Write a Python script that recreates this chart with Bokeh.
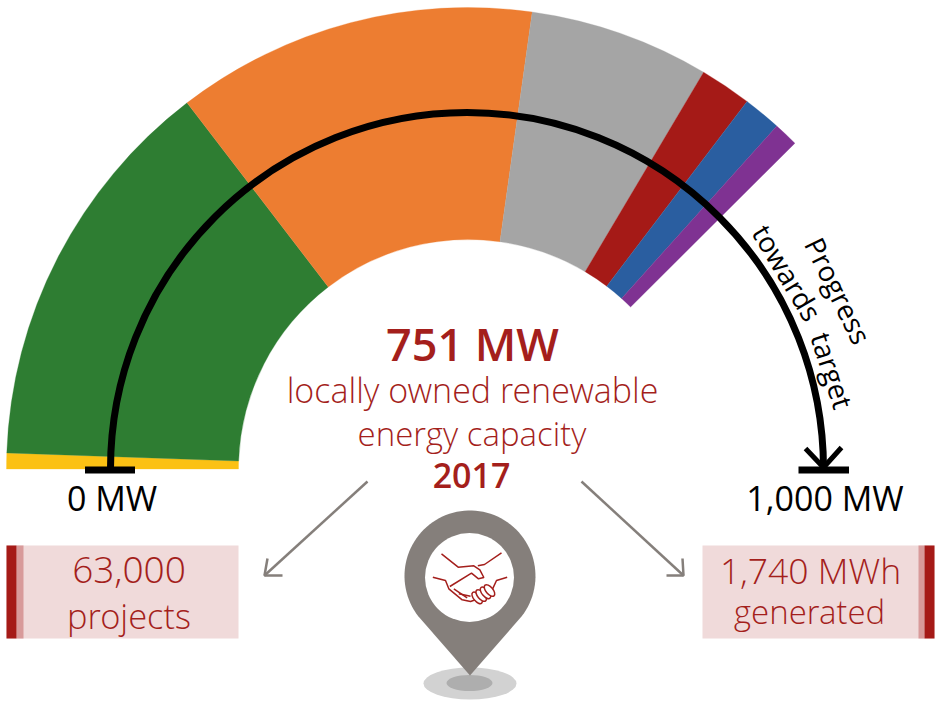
import numpy as np
from bokeh.plotting import figure
from bokeh.models import ColumnDataSource
from bokeh.core.properties import value
from bokeh.embed import file_html
from bokeh.resources import INLINE

# ---- data ----
segment_names = ["Yellow", "Green", "Orange", "Grey", "Red", "Blue", "Purple"]
segment_degrees = [2.0, 50.5, 45.5, 22.7, 6.5, 4.8, 3.1]
segment_colors = ["#fbc114", "#2e7d32", "#ed7d31", "#a5a5a5", "#a51a17", "#2a5ea0", "#7f3292"]
progress_min_label = "0 MW"
progress_max_label = "1,000 MW"
headline = "751 MW"
headline_lines = ["locally owned renewable", "energy capacity"]
headline_year = "2017"
left_box = ["63,000", "projects"]
right_box = ["1,740 MWh", "generated"]

RED = "#a41f1c"
GREY = "#857f7b"
FONT = "Open Sans"
LIGHT = "Open Sans Light"
SEMI = "Open Sans SemiBold"
H = 701

def Y(py):
    return H - np.asarray(py, dtype=float)

p = figure(width=945, height=709, x_range=(-8, 937), y_range=(0, 709),
           output_backend="svg", toolbar_location=None, min_border=0,
           x_axis_location=None, y_axis_location=None, outline_line_color=None,
           background_fill_color="white")
p.grid.visible = False
p.margin = (-8, 0, 0, -8)

CX, CY = 466.5, Y(468.5)

# gauge
ends = 180 - np.cumsum(segment_degrees)
starts = np.concatenate([[180], ends[:-1]])
src = ColumnDataSource(dict(start=ends, end=starts, color=segment_colors, name=segment_names))
p.annular_wedge(x=CX + 1, y=CY, inner_radius=229.5, outer_radius=461.5, start_angle="start",
                end_angle="end", start_angle_units="deg", end_angle_units="deg",
                fill_color="color", line_color="color", line_width=0.3, source=src)

# progress arc, ticks and arrow
p.arc(x=CX, y=CY, radius=356.5, start_angle=0, end_angle=180, start_angle_units="deg",
      end_angle_units="deg", line_color="black", line_width=7)
p.quad(left=[84.5, 798], right=[134.5, 848.5], top=Y([466, 466]), bottom=Y([473, 473]),
       fill_color="black", line_color=None)
p.line([805, 823, 841], Y([448, 467, 447]), line_color="black", line_width=5)

# progress label, word by word along the arc
p.text(x=[838, 787, 832], y=Y([290, 272, 370]), text=["Progress", "towards", "target"],
       angle=[-64, -59, -72], angle_units="deg", text_font=value(FONT), text_font_size="28px",
       text_color="black", text_align="center", text_baseline="middle")

# end labels
p.text(x=[111.5, 824.5], y=Y([497, 497]), text=[progress_min_label, progress_max_label],
       text_font=value(FONT), text_font_size="34px", text_color="black",
       text_align="center", text_baseline="middle")

# headline
p.text(x=[472], y=Y([343]), text=[headline], text_font=value(SEMI), text_font_size="45px",
       text_color=RED, text_align="center", text_baseline="middle")
p.text(x=[472], y=Y([389.5]), text=[headline_lines[0]], text_font=value(LIGHT),
       text_font_size="34px", text_color=RED, text_align="center", text_baseline="middle")
p.text(x=[471.5], y=Y([433]), text=[headline_lines[1]], text_font=value(LIGHT),
       text_font_size="33px", text_color=RED, text_align="center", text_baseline="middle")
p.text(x=[471], y=Y([475]), text=[headline_year], text_font=value(SEMI), text_font_size="34px",
       text_color=RED, text_align="center", text_baseline="middle")

# boxes
p.quad(left=[6, 702], right=[238, 934], top=Y([545, 545]), bottom=Y([638, 638]),
       fill_color="#f0dada", line_color=None)
p.quad(left=[16, 918], right=[23, 924], top=Y([545, 545]), bottom=Y([638, 638]),
       fill_color="#d89a9a", line_color=None)
p.quad(left=[6, 924], right=[16, 934], top=Y([545, 545]), bottom=Y([638, 638]),
       fill_color="#a51a17", line_color=None)
p.text(x=[128.5], y=Y([569.5]), text=[left_box[0]], text_font=value(LIGHT), text_font_size="37px",
       text_color=RED, text_align="center", text_baseline="middle")
p.text(x=[128.5], y=Y([615]), text=[left_box[1]], text_font=value(LIGHT), text_font_size="34.5px",
       text_color=RED, text_align="center", text_baseline="middle")
p.text(x=[810], y=Y([569]), text=[right_box[0]], text_font=value(LIGHT), text_font_size="35.5px",
       text_color=RED, text_align="center", text_baseline="middle")
p.text(x=[809], y=Y([611]), text=[right_box[1]], text_font=value(LIGHT), text_font_size="33px",
       text_color=RED, text_align="center", text_baseline="middle")

# grey arrows
p.multi_line(xs=[[367, 264], [282, 264, 267], [581, 683], [666, 683, 682]],
             ys=[list(Y([481, 575])), list(Y([575, 575, 558])),
                 list(Y([481, 575])), list(Y([575, 575, 558]))],
             line_color=GREY, line_width=2.5)

# pin with shadow
p.ellipse(x=[469.5, 469], y=Y([683, 682.5]), width=[93, 46], height=[32, 16],
          fill_color=["#d2d2d2", "#aeaeae"], line_color=None)
pc_x, pc_y, pr, tip = 469.5, Y(575.5), 65.5, Y(675)
half = np.arcsin(pr / (pc_y - tip))
theta = np.linspace(-half, np.pi + half, 80)
p.patch(np.r_[pc_x + pr * np.cos(theta), pc_x], np.r_[pc_y + pr * np.sin(theta), tip],
        fill_color=GREY, line_color=None)
p.circle(x=[469], y=Y([577]), radius=44.5, fill_color="white", line_color=None)

# handshake icon
def ZX(v): return 390 + np.asarray(v, dtype=float) / 3
def ZY(v): return Y(500 + np.asarray(v, dtype=float) / 3)
strokes = [
    ([153, 203, 250, 268, 280, 264, 243, 178], [160, 200, 196, 208, 231, 235, 218, 258]),
    ([333, 282, 262], [157, 192, 196]),
    ([127, 165, 175, 215, 240, 255], [230, 240, 265, 298, 303, 298]),
    ([350, 318, 305], [230, 240, 268]),
    ([190, 230], [265, 292]),
    ([205, 240], [280, 287]),
]
p.multi_line(xs=[list(ZX(a)) for a, b in strokes], ys=[list(ZY(b)) for a, b in strokes],
             line_color=RED, line_width=1.5)
p.ellipse(x=list(ZX([260, 272, 285, 297])), y=list(ZY([292, 285, 277, 270])), width=7, height=14,
          angle=np.deg2rad(40), fill_color="white", line_color=RED, line_width=1.5)

html = file_html(p, INLINE)
open("out.html", "w").write(html)
